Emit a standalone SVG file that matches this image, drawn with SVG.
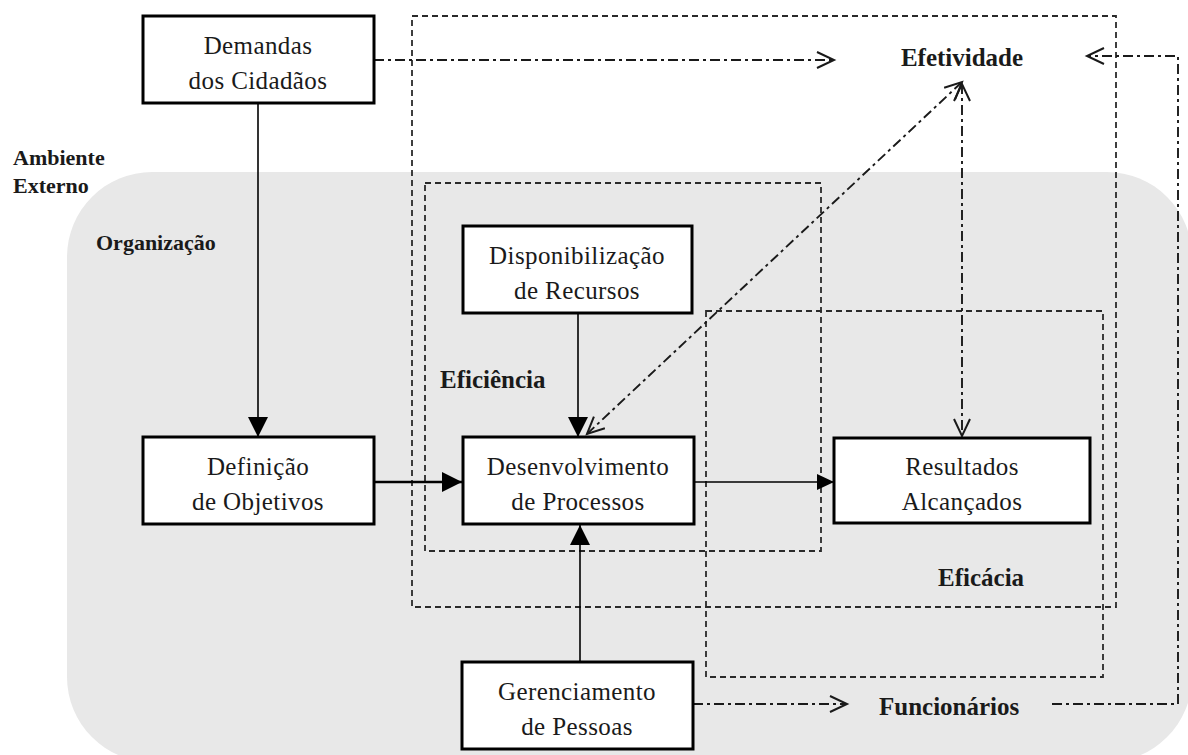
<svg xmlns="http://www.w3.org/2000/svg" width="1188" height="755" viewBox="0 0 1188 755">
<style>
.bg{fill:#e8e8e8;stroke:none}
.box{fill:#ffffff;stroke:#000;stroke-width:3}
.bt{font-family:"Liberation Serif","Times New Roman",serif;font-size:25px;fill:#1a1a1a;text-anchor:middle;letter-spacing:0.4px}
.lbl{font-family:"Liberation Serif","Times New Roman",serif;font-weight:bold;fill:#1a1a1a}
.dash{fill:none;stroke:#2a2a2a;stroke-width:1.8;stroke-dasharray:6 4}
.dd{fill:none;stroke:#1a1a1a;stroke-width:1.9;stroke-dasharray:10 4 3 4}
.solid{fill:none;stroke:#000;stroke-width:1.6}
.thick{fill:none;stroke:#000;stroke-width:2.6}
</style>
<defs>
<marker id="fa" markerUnits="userSpaceOnUse" markerWidth="22" markerHeight="22" refX="20" refY="10" orient="auto" viewBox="0 0 22 22">
<path d="M0,0 L20,10 L0,20 Z" fill="#000"/>
</marker>
<marker id="fs" markerUnits="userSpaceOnUse" markerWidth="20" markerHeight="18" refX="17" refY="8" orient="auto" viewBox="0 0 20 18">
<path d="M0,0 L17,8 L0,16 Z" fill="#000"/>
</marker>
<marker id="oa" markerUnits="userSpaceOnUse" markerWidth="22" markerHeight="22" refX="18" refY="9" orient="auto-start-reverse" viewBox="0 0 22 22">
<path d="M1,1 L18,9 L1,17" fill="none" stroke="#1a1a1a" stroke-width="2"/>
</marker>
</defs>

<rect class="bg" x="67" y="172" width="1125" height="590" rx="85" ry="85"/>

<g id="regions">
<rect class="dash" x="412" y="16" width="704" height="591"/>
<rect class="dash" x="425" y="183" width="396" height="368"/>
<rect class="dash" x="706" y="311" width="397" height="366"/>
</g>

<g id="connectors">
<line class="solid" x1="258" y1="103" x2="258" y2="437" marker-end="url(#fa)"/>
<line class="thick" x1="374" y1="482" x2="462" y2="482" marker-end="url(#fa)"/>
<line class="solid" x1="578" y1="313" x2="578" y2="437" marker-end="url(#fa)"/>
<line class="solid" x1="580" y1="662" x2="580" y2="525" marker-end="url(#fa)"/>
<line class="solid" x1="694" y1="482" x2="834" y2="482" marker-end="url(#fs)"/>
<line class="dd" x1="374" y1="60" x2="834" y2="60" marker-end="url(#oa)"/>
<line class="dd" x1="587" y1="434" x2="962" y2="82" marker-start="url(#oa)" marker-end="url(#oa)"/>
<line class="dd" x1="962" y1="84" x2="962" y2="436" marker-start="url(#oa)" marker-end="url(#oa)"/>
<line class="dd" x1="693" y1="704" x2="847" y2="704" marker-end="url(#oa)"/>
<polyline class="dd" points="1052,704 1178,704 1178,56 1087,56" marker-end="url(#oa)"/>
</g>

<g id="labels">
<text class="lbl" x="13" y="165" font-size="22">Ambiente</text>
<text class="lbl" x="13" y="193" font-size="22">Externo</text>
<text class="lbl" x="96" y="250" font-size="22">Organização</text>
<text class="lbl" x="962" y="66" font-size="25" text-anchor="middle">Efetividade</text>
<text class="lbl" x="440" y="388" font-size="25">Eficiência</text>
<text class="lbl" x="938" y="586" font-size="25">Eficácia</text>
<text class="lbl" x="879" y="715" font-size="25">Funcionários</text>
</g>

<g id="demandas">
<rect class="box" x="143" y="16" width="231" height="87"/>
<text class="bt" x="258" y="54">Demandas</text>
<text class="bt" x="258" y="89">dos Cidadãos</text>
</g>
<g id="definicao">
<rect class="box" x="143" y="437" width="231" height="87"/>
<text class="bt" x="258" y="475">Definição</text>
<text class="bt" x="258" y="510">de Objetivos</text>
</g>
<g id="disponibilizacao">
<rect class="box" x="463" y="226" width="229" height="87"/>
<text class="bt" x="577" y="264">Disponibilização</text>
<text class="bt" x="577" y="299">de Recursos</text>
</g>
<g id="desenvolvimento">
<rect class="box" x="463" y="437" width="231" height="87"/>
<text class="bt" x="578" y="475">Desenvolvimento</text>
<text class="bt" x="578" y="510">de Processos</text>
</g>
<g id="resultados">
<rect class="box" x="834" y="438" width="256" height="85"/>
<text class="bt" x="962" y="475">Resultados</text>
<text class="bt" x="962" y="510">Alcançados</text>
</g>
<g id="gerenciamento">
<rect class="box" x="462" y="662" width="231" height="87"/>
<text class="bt" x="577" y="700">Gerenciamento</text>
<text class="bt" x="577" y="735">de Pessoas</text>
</g>
</svg>
